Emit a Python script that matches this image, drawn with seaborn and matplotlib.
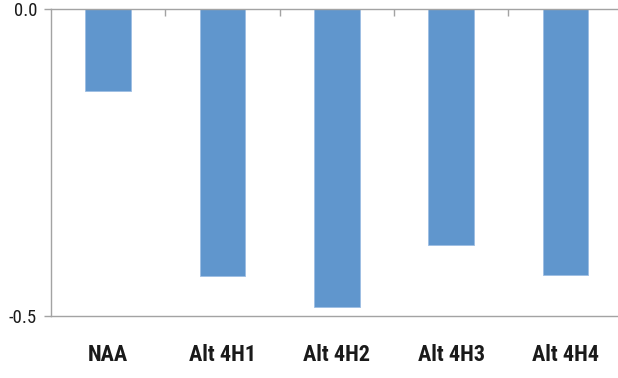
import matplotlib
matplotlib.use("Agg")
import matplotlib.pyplot as plt
import seaborn as sns
import pandas as pd
import numpy as np

# Chart data
categories = ["NAA", "Alt 4H1", "Alt 4H2", "Alt 4H3", "Alt 4H4"]
values = [-0.133, -0.434, -0.484, -0.384, -0.432]
y_ticks = [0.0, -0.5]
y_tick_labels = ["0.0", "-0.5"]

sns.set_theme(style="white")
plt.rcParams['font.family'] = ['Roboto Condensed', 'DejaVu Sans']

df = pd.DataFrame({"category": categories, "value": values})

fig = plt.figure(figsize=(6.18, 3.78), dpi=100)
# plot area runs slightly past the right edge, like the source
ax = fig.add_axes([0.0825, 0.163, 0.925, 0.814])

sns.barplot(data=df, x="category", y="value", color="#6096cd", saturation=1,
            width=0.4, edgecolor="#9dbde3", linewidth=0.6, ax=ax)

ax.set_ylim(-0.5, 0.0)
ax.set_xlim(-0.5, len(categories) - 0.5)
ax.set_xlabel("")
ax.set_ylabel("")

# Axis lines
grey = "#a3a3a3"
for side in ["left", "top", "bottom"]:
    ax.spines[side].set_visible(True)
    ax.spines[side].set_color(grey)
    ax.spines[side].set_linewidth(1.0)
ax.spines["right"].set_visible(False)

ax.set_yticks(y_ticks)
ax.set_yticklabels(y_tick_labels, fontsize=13.5)
ax.tick_params(axis="y", which="major", direction="out", length=5, width=1.0,
               color=grey, left=True, pad=5, labelcolor="#1a1a1a")

ax.set_xticks(range(len(categories)))
ax.set_xticklabels(categories, fontsize=16, fontweight="bold", color="#1a1a1a")
ax.tick_params(axis="x", which="major", length=0, pad=20, bottom=False)

# Category separator ticks on the zero line
ax.set_xticks(np.arange(0.5, len(categories) - 0.5, 1.0), minor=True)
ax.tick_params(axis="x", which="minor", top=True, bottom=False, direction="in",
               length=5, width=1.0, color=grey)

plt.savefig("out.png", dpi=100)
plt.close()
